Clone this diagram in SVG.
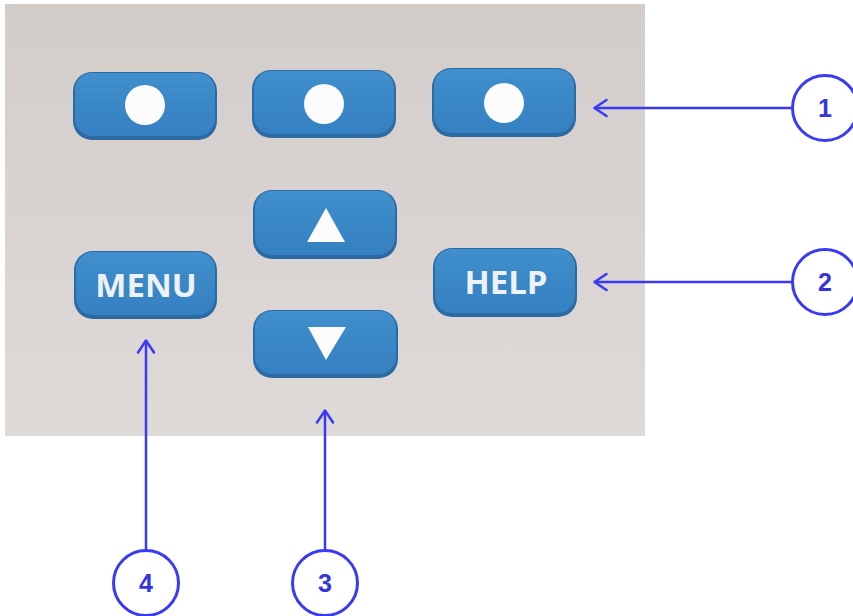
<svg xmlns="http://www.w3.org/2000/svg" width="853" height="616" viewBox="0 0 853 616">
<defs>
<linearGradient id="bg" x1="0" y1="0" x2="0" y2="1">
<stop offset="0" stop-color="#d3cdca"/>
<stop offset="1" stop-color="#dedad8"/>
</linearGradient>
<linearGradient id="btn" x1="0" y1="0" x2="0" y2="1">
<stop offset="0" stop-color="#428fcd"/>
<stop offset="0.5" stop-color="#3a87c7"/>
<stop offset="1" stop-color="#3580c0"/>
</linearGradient>
<marker id="arr" viewBox="0 0 16 20" refX="14.5" refY="10" markerWidth="16" markerHeight="20" markerUnits="userSpaceOnUse" orient="auto">
<path d="M2,2 L14,10 L2,18" fill="none" stroke="#3a3af5" stroke-width="2.5" stroke-linecap="round" stroke-linejoin="round"/>
</marker>
</defs>
<style>
.edge{fill:#2b6aa3}
.face{fill:url(#btn)}
.glyph{fill:#fbfbfb}
.lbl{font-family:"Open Sans","Liberation Sans",Arial,sans-serif;font-weight:bold;font-size:33px;fill:#eef2f7;text-anchor:middle}
.conn{stroke:#3a3af5;stroke-width:2.5;fill:none}
.callout circle{fill:#ffffff;stroke:#3a3af5;stroke-width:3}
.callout text{font-family:"Liberation Sans",Arial,sans-serif;font-weight:bold;font-size:25px;fill:#3535e0;text-anchor:middle}
</style>
<rect x="5" y="4" width="640" height="432" fill="url(#bg)"/>

<g id="btn-soft1">
<rect class="edge" x="73" y="72" width="144" height="68" rx="19"/>
<rect class="face" x="75" y="73" width="140" height="63" rx="17"/>
<circle class="glyph" cx="145" cy="105" r="20"/>
</g>
<g id="btn-soft2">
<rect class="edge" x="252" y="70" width="144" height="68" rx="19"/>
<rect class="face" x="254" y="71" width="140" height="63" rx="17"/>
<circle class="glyph" cx="324" cy="104" r="20"/>
</g>
<g id="btn-soft3">
<rect class="edge" x="432" y="68" width="144" height="69" rx="19"/>
<rect class="face" x="434" y="69" width="140" height="64" rx="17"/>
<circle class="glyph" cx="504" cy="103" r="20"/>
</g>
<g id="btn-up">
<rect class="edge" x="253" y="190" width="144" height="69" rx="19"/>
<rect class="face" x="255" y="191" width="140" height="64" rx="17"/>
<polygon class="glyph" points="326,208 345,242 307,242"/>
</g>
<g id="btn-down">
<rect class="edge" x="253" y="310" width="145" height="68" rx="19"/>
<rect class="face" x="255" y="311" width="141" height="63" rx="17"/>
<polygon class="glyph" points="308,327 346,327 326,360"/>
</g>
<g id="btn-menu">
<rect class="edge" x="74" y="251" width="143" height="68" rx="19"/>
<rect class="face" x="76" y="252" width="139" height="63" rx="17"/>
<text class="lbl" x="146" y="297">MENU</text>
</g>
<g id="btn-help">
<rect class="edge" x="433" y="248" width="144" height="69" rx="19"/>
<rect class="face" x="435" y="249" width="140" height="64" rx="17"/>
<text class="lbl" x="506" y="294">HELP</text>
</g>

<g id="connectors">
<line class="conn" x1="792" y1="108" x2="594" y2="108" marker-end="url(#arr)"/>
<line class="conn" x1="792" y1="282" x2="594" y2="282" marker-end="url(#arr)"/>
<line class="conn" x1="325" y1="551" x2="325" y2="410" marker-end="url(#arr)"/>
<line class="conn" x1="146" y1="551" x2="146" y2="340" marker-end="url(#arr)"/>
</g>

<g id="callout-1" class="callout">
<circle cx="825" cy="108" r="32.5"/>
<text x="825" y="117">1</text>
</g>
<g id="callout-2" class="callout">
<circle cx="825" cy="282" r="32.5"/>
<text x="825" y="291">2</text>
</g>
<g id="callout-3" class="callout">
<circle cx="325" cy="583" r="32.5"/>
<text x="325" y="592">3</text>
</g>
<g id="callout-4" class="callout">
<circle cx="146" cy="583" r="32.5"/>
<text x="146" y="592">4</text>
</g>
</svg>
